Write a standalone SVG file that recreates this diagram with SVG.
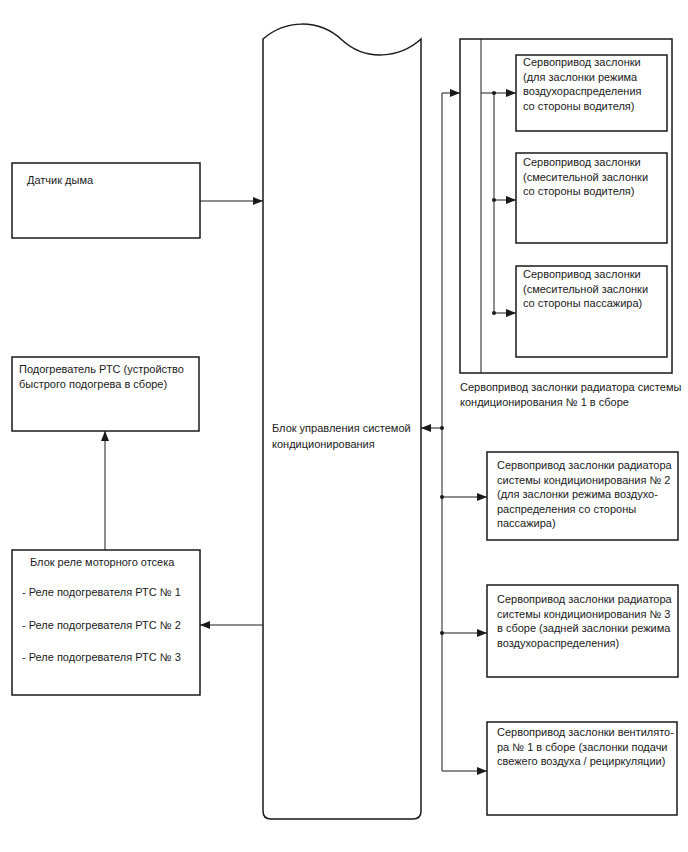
<svg xmlns="http://www.w3.org/2000/svg" width="688" height="852" viewBox="0 0 688 852">
<style>
.box{fill:#fff;stroke:#1a1a1a;stroke-width:1.5}
.ln{fill:none;stroke:#1a1a1a;stroke-width:1}
.t{font-family:"Liberation Sans",Arial,sans-serif;font-size:11px;fill:#1a1a1a}
.dot{fill:#1a1a1a}
</style>
<defs>
<marker id="ar" viewBox="0 0 10 8" refX="10" refY="4" markerWidth="10" markerHeight="8" markerUnits="userSpaceOnUse" orient="auto">
<path d="M0,0 L10,4 L0,8 Z" fill="#1a1a1a"/>
</marker>
</defs>
<rect width="688" height="852" fill="#fff"/>

<g id="control-unit">
<path class="box" d="M263,39 C285,20 318,18 342,40 C366,62 400,58 421,39 L421,811 Q421,819 413,819 L271,819 Q263,819 263,811 Z"/>
<text class="t" x="272" y="432">Блок управления системой</text>
<text class="t" x="272" y="448">кондиционирования</text>
</g>

<g id="smoke-sensor">
<rect class="box" x="12" y="163" width="188" height="75"/>
<text class="t" x="27" y="184">Датчик дыма</text>
</g>

<g id="ptc-heater">
<rect class="box" x="12" y="357" width="187" height="74"/>
<text class="t" x="19" y="373">Подогреватель РТС (устройство</text>
<text class="t" x="19" y="388">быстрого подогрева в сборе)</text>
</g>

<g id="relay-block">
<rect class="box" x="12" y="550" width="188" height="145"/>
<text class="t" x="30" y="566">Блок реле моторного отсека</text>
<text class="t" x="22" y="596">- Реле подогревателя РТС № 1</text>
<text class="t" x="22" y="629">- Реле подогревателя РТС № 2</text>
<text class="t" x="22" y="661">- Реле подогревателя РТС № 3</text>
</g>

<g id="radiator-servo-1">
<rect class="box" x="460" y="39" width="212" height="334"/>
<line class="ln" x1="481" y1="39" x2="481" y2="373"/>
<text class="t" x="460" y="391">Сервопривод заслонки радиатора системы</text>
<text class="t" x="460" y="406">кондиционирования № 1 в сборе</text>
</g>

<g id="servo-driver-mode">
<rect class="box" x="516" y="55" width="151" height="76"/>
<text class="t" x="523" y="66">Сервопривод заслонки</text>
<text class="t" x="523" y="80.5">(для заслонки режима</text>
<text class="t" x="523" y="95">воздухораспределения</text>
<text class="t" x="523" y="109.5">со стороны водителя)</text>
</g>

<g id="servo-driver-mix">
<rect class="box" x="516" y="153" width="151" height="90"/>
<text class="t" x="523" y="166">Сервопривод заслонки</text>
<text class="t" x="523" y="180.5">(смесительной заслонки</text>
<text class="t" x="523" y="195">со стороны водителя)</text>
</g>

<g id="servo-passenger-mix">
<rect class="box" x="516" y="266" width="151" height="91"/>
<text class="t" x="523" y="278">Сервопривод заслонки</text>
<text class="t" x="523" y="292.5">(смесительной заслонки</text>
<text class="t" x="523" y="307">со стороны пассажира)</text>
</g>

<g id="radiator-servo-2">
<rect class="box" x="487" y="452" width="191" height="88"/>
<text class="t" x="497" y="469">Сервопривод заслонки радиатора</text>
<text class="t" x="497" y="483.5">системы кондиционирования № 2</text>
<text class="t" x="497" y="498">(для заслонки режима воздухо-</text>
<text class="t" x="497" y="512.5">распределения со стороны</text>
<text class="t" x="497" y="527">пассажира)</text>
</g>

<g id="radiator-servo-3">
<rect class="box" x="487" y="585" width="191" height="92"/>
<text class="t" x="497" y="603">Сервопривод заслонки радиатора</text>
<text class="t" x="497" y="617.5">системы кондиционирования № 3</text>
<text class="t" x="497" y="632">в сборе (задней заслонки режима</text>
<text class="t" x="497" y="646.5">воздухораспределения)</text>
</g>

<g id="fan-servo-1">
<rect class="box" x="487" y="722" width="190" height="93"/>
<text class="t" x="497" y="736">Сервопривод заслонки вентилято-</text>
<text class="t" x="497" y="751">ра № 1 в сборе (заслонки подачи</text>
<text class="t" x="497" y="765">свежего воздуха / рециркуляции)</text>
</g>

<g id="connectors">
<line class="ln" x1="200" y1="201" x2="263" y2="201" marker-end="url(#ar)"/>
<line class="ln" x1="105" y1="550" x2="105" y2="431" marker-end="url(#ar)"/>
<line class="ln" x1="263" y1="625" x2="200" y2="625" marker-end="url(#ar)"/>
<polyline class="ln" points="442,771 442,93 460,93" marker-end="url(#ar)"/>
<line class="ln" x1="442" y1="428" x2="421" y2="428" marker-end="url(#ar)"/>
<line class="ln" x1="442" y1="497" x2="487" y2="497" marker-end="url(#ar)"/>
<line class="ln" x1="442" y1="633" x2="487" y2="633" marker-end="url(#ar)"/>
<line class="ln" x1="442" y1="771" x2="487" y2="771" marker-end="url(#ar)"/>
<line class="ln" x1="481" y1="93" x2="516" y2="93" marker-end="url(#ar)"/>
<line class="ln" x1="494" y1="93" x2="494" y2="313"/>
<line class="ln" x1="494" y1="200" x2="516" y2="200" marker-end="url(#ar)"/>
<line class="ln" x1="494" y1="313" x2="516" y2="313" marker-end="url(#ar)"/>
<circle class="dot" cx="442" cy="428" r="2"/>
<circle class="dot" cx="442" cy="497" r="2"/>
<circle class="dot" cx="442" cy="633" r="2"/>
<circle class="dot" cx="494" cy="93" r="2"/>
<circle class="dot" cx="494" cy="200" r="2"/>
<circle class="dot" cx="494" cy="313" r="2"/>
</g>
</svg>
